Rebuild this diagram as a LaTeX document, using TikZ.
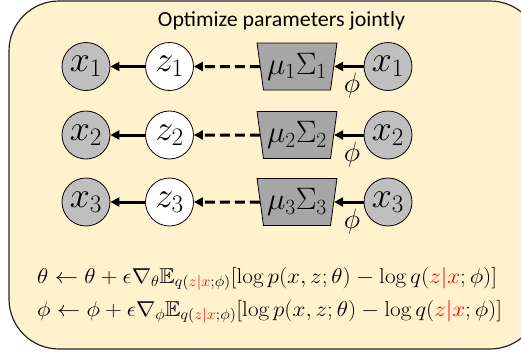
\RequirePackage{fix-cm}
\documentclass[tikz,border=0pt]{standalone}
\usepackage{amssymb}
\usepackage{graphicx}
\usepackage{fontspec}
\newfontfamily\titlefont{Carlito}
\usetikzlibrary{shapes.geometric,arrows.meta}
\definecolor{boxfill}{HTML}{FFF2CC}
\definecolor{obsfill}{HTML}{BFBFBF}
\definecolor{encfill}{HTML}{A6A6A6}
\begin{document}
\begin{tikzpicture}[x=1pt,y=-1pt,
  obs/.style={circle,draw=black,line width=0.8pt,fill=obsfill,minimum size=48pt,inner sep=0pt,font=\fontsize{36}{36}\selectfont},
  lat/.style={obs,fill=white},
  enc/.style={trapezium,draw=black,line width=0.8pt,fill=encfill,trapezium stretches=true,
    minimum width=80pt,minimum height=47pt,trapezium angle=78,shape border rotate=180,inner sep=0pt,
    font=\fontsize{31}{31}\selectfont},
  arr/.style={line width=3pt,-{Triangle[length=9pt,width=9pt]}},
  darr/.style={arr,dash pattern=on 10pt off 5pt},
  philab/.style={font=\fontsize{28}{28}\selectfont,inner sep=0pt},
  eq/.style={anchor=base west,inner sep=0pt,font=\fontsize{21.5}{23}\selectfont}
]
\useasboundingbox (0,0) rectangle (521,351);
\draw[fill=boxfill,line width=1.2pt,draw=black!85,rounded corners=50pt] (9,1) rectangle (540,349);
\node[anchor=base,inner sep=0pt,font=\titlefont\fontsize{21.5}{24}\selectfont] (title) at (281.5,26) {\resizebox{247pt}{\height}{Optimize parameters jointly}};
\foreach \i/\y in {1/66.5,2/135,3/202}{
  \node[obs] (xl\i) at (86,\y) {$x_\i$};
  \node[lat] (z\i) at (169.5,\y) {$z_\i$};
  \node[enc] (e\i) at (297,\y) {$\mu_\i\Sigma_\i$};
  \node[obs] (xr\i) at (388,\y) {$x_\i$};
  \node[philab] (phi\i) at (352,\y+19) {$\phi$};
  \draw[arr] (xr\i) -- (e\i);
  \draw[darr] (e\i) -- (z\i);
  \draw[arr] (z\i) -- (xl\i);
}
\node[eq] (eq1) at (37,283) {\resizebox{460pt}{\height}{$\theta \leftarrow \theta + \epsilon \nabla_\theta \mathbb{E}_{q(\textcolor{red}{z|x};\phi)}[\log p(x,z;\theta) - \log q(\textcolor{red}{z|x};\phi)]$}};
\node[eq] (eq2) at (37,316) {\resizebox{465pt}{\height}{$\phi \leftarrow \phi + \epsilon \nabla_\phi \mathbb{E}_{q(\textcolor{red}{z|x};\phi)}[\log p(x,z;\theta) - \log q(\textcolor{red}{z|x};\phi)]$}};
\end{tikzpicture}
\end{document}
